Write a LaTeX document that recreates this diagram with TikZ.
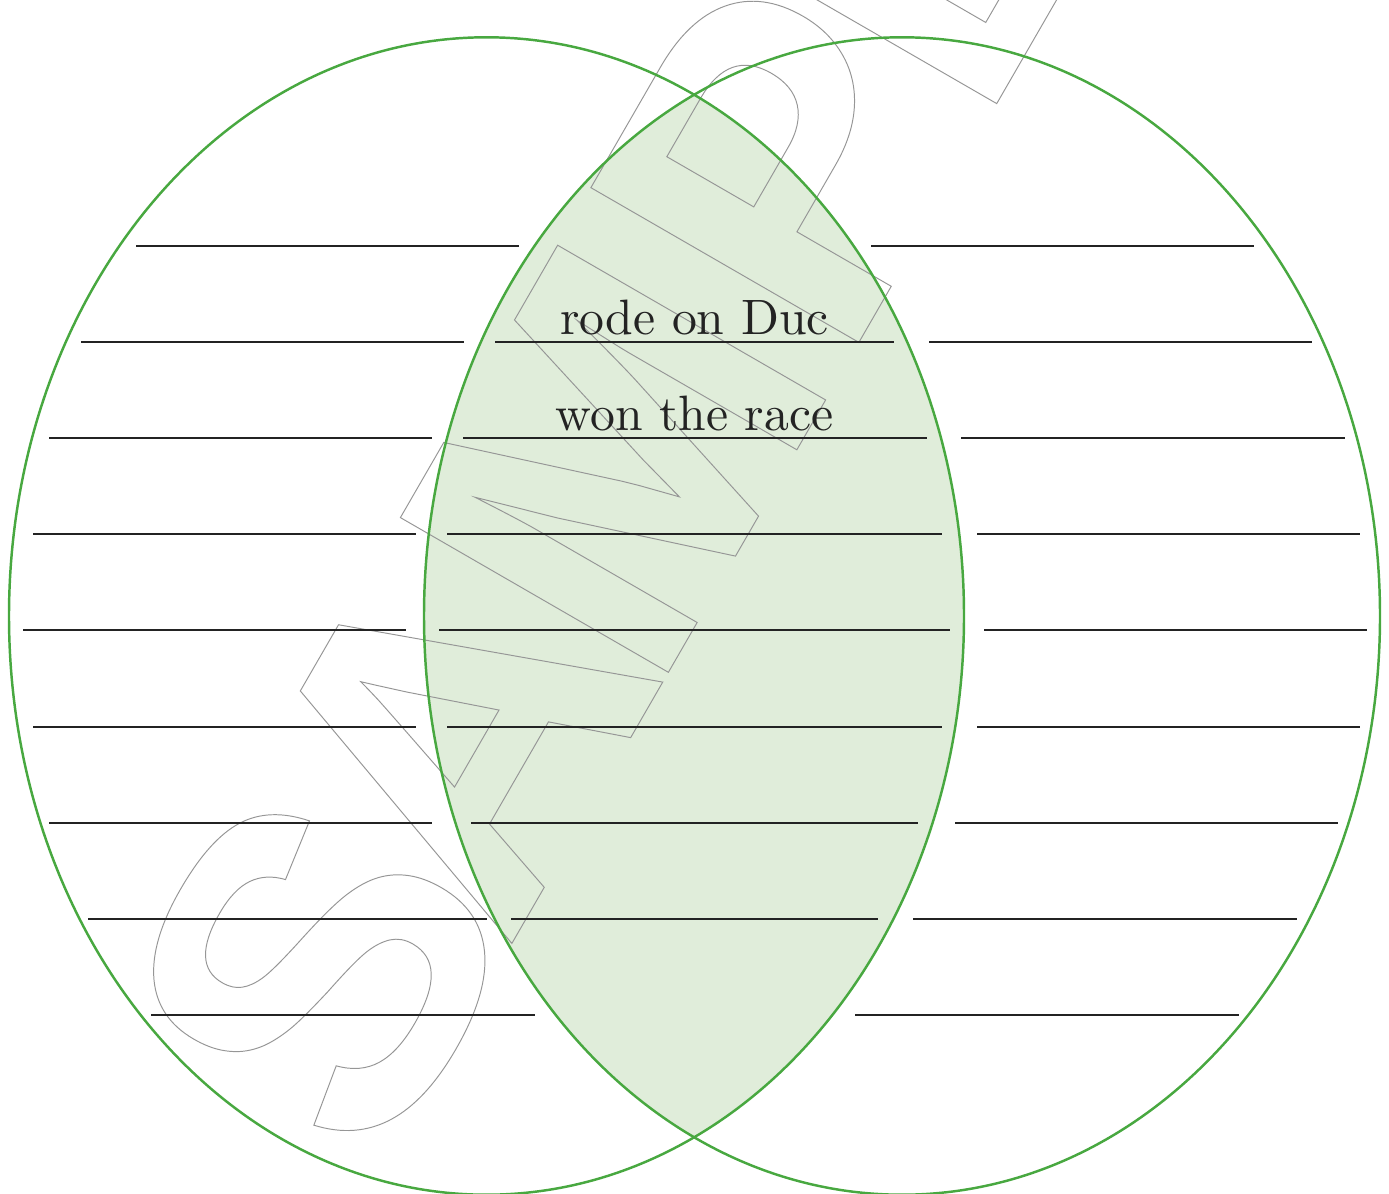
\documentclass[tikz,border=0pt]{standalone}
\usepackage{fontspec}
\usepackage{tikz}
\usetikzlibrary{positioning}
\newfontfamily\wmfont{Liberation Sans}
\newfontfamily\labfont{lmroman10-regular.otf}
\definecolor{ink}{RGB}{35,35,35}
\definecolor{rimgreen}{RGB}{72,168,64}
\definecolor{lens}{RGB}{224,237,218}
\definecolor{wmgray}{RGB}{150,150,150}
\newcommand\wmoutline[1]{\special{pdf:literal direct 1 Tr 0.55 w}#1}
\tikzset{
  rim/.style={draw=rimgreen,line width=1.4pt},
  rule/.style={draw=ink,line width=0.9pt},
  lab/.style={font=\labfont\fontsize{28.3}{34}\selectfont,text=ink,inner sep=0pt,anchor=base},
  wmark/.style={font=\wmfont\bfseries\fontsize{256}{256}\selectfont,text=wmgray,inner sep=0pt},
}

\begin{document}
\begin{tikzpicture}[x=0.02cm,y=-0.02cm]
\useasboundingbox (0,0) rectangle (1389,1193);
% shaded overlap of the two sets
\begin{scope}
  \clip (486.5,616) ellipse [x radius=477.5,y radius=578.7];
  \fill[lens] (902,616) ellipse [x radius=478,y radius=578.7];
\end{scope}
% watermark
\node[wmark,rotate=60,anchor=base west] (wm) at (377,1177)
  {\wmoutline{S\kern-23.9pt A\kern-17.5pt M\kern4pt P\kern-14.2pt LE}};
% writing lines
\foreach \y/\a/\b in {246/136/519, 246/871/1254,
    342/81/464, 342/495/894, 342/929/1312,
    438/49/432, 438/463/927, 438/961/1345,
    534/33/416, 534/447/942, 534/977/1360,
    630/23/406, 630/439/950, 630/984/1367,
    727/33/416, 727/447/942, 727/977/1360,
    823/49/432, 823/471/918, 823/955/1338,
    919/88/487, 919/511/878, 919/913/1297,
    1015/151/535, 1015/855/1239}{
  \draw[rule] (\a,\y) -- (\b,\y);
}
% the two sets
\draw[rim] (486.5,616) ellipse [x radius=477.5,y radius=578.7];
\draw[rim] (902,616) ellipse [x radius=478,y radius=578.7];
% shared items
\node[lab] (ride) at (694.5,334) {rode on Duc};
\node[lab] (race) at (694.5,430.5) {won the race};
\end{tikzpicture}
\end{document}
